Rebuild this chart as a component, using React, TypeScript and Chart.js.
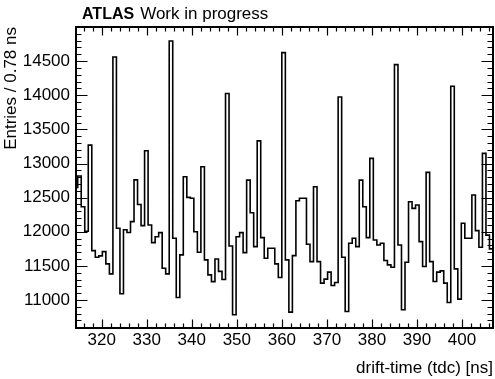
import React, { useEffect, useRef } from "react";
import { Chart, registerables } from "chart.js";

Chart.register(...registerables);

// Histogram: entries per 0.78 ns bin of drift-time (tdc)
const BIN_WIDTH = 0.78125;
const FIRST_EDGE = 313.89875; // left edge of the first (partially visible) bin
const COUNTS = [
  12650, 12816, 12367, 12007, 13269, 11724, 11627, 11646, 11709, 11529,
  11383, 14560, 12051, 11091, 12030, 11990, 12148, 12760, 12400, 12090,
  13186, 12099, 11841, 11928, 11987, 11466, 11383, 14794, 11905, 11036,
  11661, 12806, 12504, 12490, 12000, 11700, 12952, 11588, 11368, 11270,
  11602, 11420, 11300, 14025, 11792, 10784, 11928, 11987, 11694, 12757,
  12279, 11782, 13332, 11914, 11613, 11759, 11759, 11529, 11329, 14624,
  11588, 10823, 11651, 12455, 12490, 12490, 11817, 11563, 12659, 11563,
  11247, 11306, 11408, 11212, 11256, 13975, 11627, 10832, 11832, 11905,
  11782, 12757, 12367, 11914, 13075, 11880, 11807, 11832, 11578, 11515,
  11481, 14449, 11807, 10857, 11554, 12440, 12343, 12392, 11856, 11490,
  12870, 11563, 11271, 11408, 11427, 11247, 10963, 14132, 11456, 11013,
  12124, 11905, 11905, 12538, 12016, 11773, 13148, 11950, 11750,
];

const X_TICKS = [320, 330, 340, 350, 360, 370, 380, 390, 400];
const Y_TICKS = [11000, 11500, 12000, 12500, 13000, 13500, 14000, 14500];
const X_MINOR_STEP = 2;
const Y_MINOR_STEP = 100;
const X_MIN = 314.3;
const X_MAX = 406.87;
const Y_MIN = 10590;
const Y_MAX = 15000;

const TITLE_BOLD = "ATLAS";
const TITLE_REST = "Work in progress";
const X_TITLE = "drift-time (tdc) [ns]";
const Y_TITLE = "Entries / 0.78 ns";

const FONT = '"Liberation Sans", Arial, Helvetica, sans-serif';

const decorPlugin = {
  id: "atlasDecor",
  afterDraw(chart: any) {
    const { ctx, chartArea: a } = chart;
    const xs = chart.scales.x;
    const ys = chart.scales.y;
    ctx.save();
    ctx.strokeStyle = "#000";
    ctx.lineWidth = 1.2;
    ctx.beginPath();
    // x ticks (bottom and top)
    const xStart = Math.ceil(X_MIN / X_MINOR_STEP) * X_MINOR_STEP;
    for (let v = xStart; v <= X_MAX + 1e-9; v += X_MINOR_STEP) {
      const px = Math.round(xs.getPixelForValue(v)) + 0.5;
      const major = v % 10 === 0;
      const len = major ? 8.5 : 4.5;
      ctx.moveTo(px, a.bottom);
      ctx.lineTo(px, a.bottom - len);
      ctx.moveTo(px, a.top);
      ctx.lineTo(px, a.top + len);
    }
    // y ticks (left and right)
    const yStart = Math.ceil(Y_MIN / Y_MINOR_STEP) * Y_MINOR_STEP;
    for (let v = yStart; v <= Y_MAX + 1e-9; v += Y_MINOR_STEP) {
      const py = Math.round(ys.getPixelForValue(v)) + 0.5;
      const major = v % 500 === 0;
      const len = major ? 11.5 : 5.5;
      ctx.moveTo(a.left, py);
      ctx.lineTo(a.left + len, py);
      ctx.moveTo(a.right, py);
      ctx.lineTo(a.right - len, py);
    }
    ctx.stroke();
    // frame
    ctx.lineWidth = 2;
    ctx.strokeRect(a.left, a.top, a.right - a.left, a.bottom - a.top);
    // title
    ctx.fillStyle = "#000";
    ctx.textBaseline = "alphabetic";
    ctx.textAlign = "left";
    const tx = a.left + 6;
    const ty = a.top - 8;
    ctx.font = `bold 16px ${FONT}`;
    ctx.fillText(TITLE_BOLD, tx, ty);
    const w = ctx.measureText(TITLE_BOLD).width;
    ctx.font = `17px ${FONT}`;
    ctx.fillText(TITLE_REST, tx + w + 6, ty);
    ctx.restore();
  },
};

export default function App() {
  const ref = useRef<HTMLCanvasElement>(null);

  useEffect(() => {
    if (!ref.current) return;
    const pts = COUNTS.map((c, i) => ({ x: FIRST_EDGE + i * BIN_WIDTH, y: c }));
    pts.push({
      x: FIRST_EDGE + COUNTS.length * BIN_WIDTH,
      y: COUNTS[COUNTS.length - 1],
    });
    const chart = new Chart(ref.current, {
      type: "line",
      data: {
        datasets: [
          {
            data: pts,
            borderColor: "#000",
            borderWidth: 1.6,
            pointRadius: 0,
            stepped: "before",
            fill: false,
            tension: 0,
            clip: 0,
          } as any,
        ],
      },
      options: {
        animation: false,
        responsive: false,
        devicePixelRatio: 1,
        layout: { padding: { left: 0, top: 27, right: 2, bottom: 0 } },
        plugins: {
          legend: { display: false },
          tooltip: { enabled: false },
          title: { display: false },
        },
        scales: {
          x: {
            type: "linear",
            min: X_MIN,
            max: X_MAX,
            grid: { display: false, drawTicks: false },
            border: { display: false },
            afterBuildTicks: (s: any) => {
              s.ticks = X_TICKS.map((v) => ({ value: v }));
            },
            afterFit: (s: any) => {
              s.height = 51;
            },
            ticks: {
              autoSkip: false,
              maxRotation: 0,
              padding: 2,
              color: "#000",
              font: { family: FONT, size: 17 },
              callback: (v: any) => String(v),
            },
            title: {
              display: true,
              text: X_TITLE,
              align: "end",
              color: "#000",
              font: { family: FONT, size: 17 },
              padding: { top: 0, bottom: 0 },
            },
          },
          y: {
            type: "linear",
            min: Y_MIN,
            max: Y_MAX,
            grid: { display: false, drawTicks: false },
            border: { display: false },
            afterBuildTicks: (s: any) => {
              s.ticks = Y_TICKS.map((v) => ({ value: v }));
            },
            afterFit: (s: any) => {
              s.width = 76;
            },
            ticks: {
              autoSkip: false,
              padding: 6,
              color: "#000",
              font: { family: FONT, size: 17 },
              callback: (v: any) => String(v),
            },
            title: {
              display: true,
              text: Y_TITLE,
              align: "end",
              color: "#000",
              font: { family: FONT, size: 17 },
              padding: { top: 1, bottom: 0 },
            },
          },
        },
      },
      plugins: [decorPlugin],
    });
    return () => chart.destroy();
  }, []);

  return (
    <div style={{ position: "absolute", left: 0, top: 0, width: 495, height: 379, background: "#fff" }}>
      <canvas ref={ref} width={495} height={379} style={{ display: "block", width: 495, height: 379 }} />
    </div>
  );
}
